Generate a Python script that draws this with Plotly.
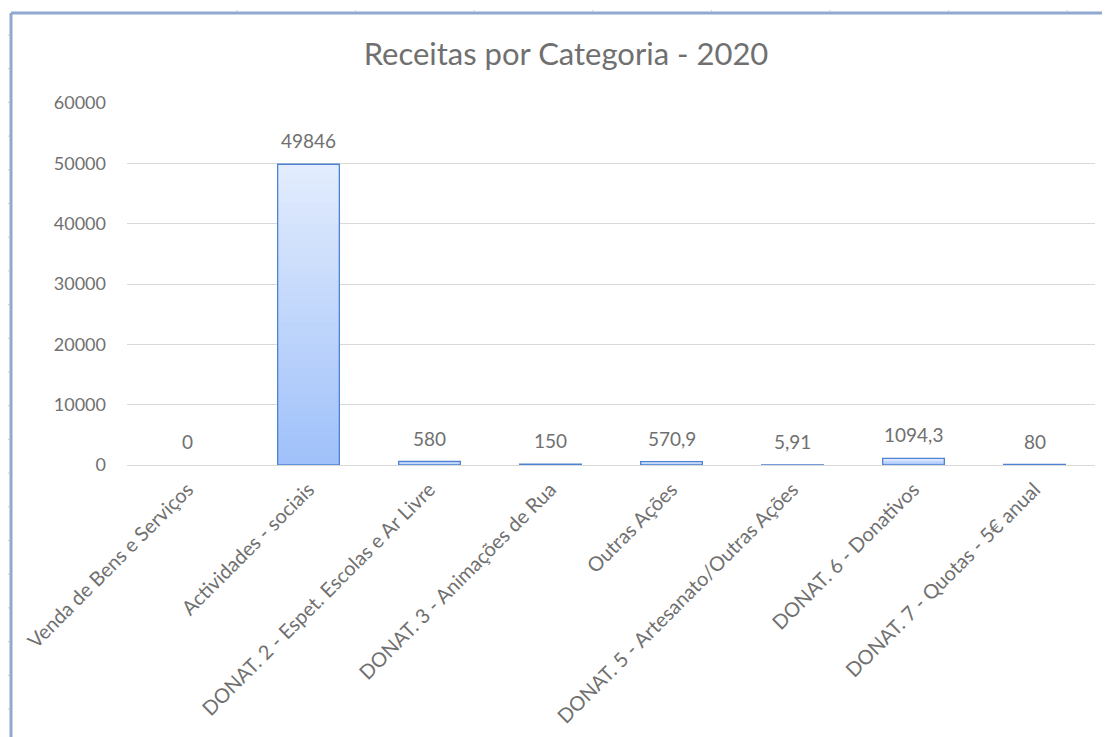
import plotly.graph_objects as go

categories = [
    "Venda de Bens e Serviços",
    "Actividades - sociais",
    "DONAT. 2 - Espet. Escolas e Ar Livre",
    "DONAT. 3 - Animações de Rua",
    "Outras Ações",
    "DONAT. 5 - Artesanato/Outras Ações",
    "DONAT. 6 - Donativos",
    "DONAT. 7 - Quotas - 5€ anual",
]
values = [0, 49846, 580, 150, 570.9, 5.91, 1094.3, 80]
y_ticks = [0, 10000, 20000, 30000, 40000, 50000, 60000]
title_text = "Receitas por Categoria - 2020"

OFF = 8  # page body margin
W, H = 1110 - OFF, 737 - OFF
ML, MR, MT, MB = 127 - OFF, 15, 103 - OFF, 737 - 465
PW, PH = W - ML - MR, H - MT - MB
FONT = "Lato"
TXT = "#707070"


def px_x(x):
    # screen pixel -> paper
    return (x - OFF - ML) / PW


def px_y(y):
    return 1 - (y - OFF - MT) / PH


def lerp(c1, c2, t):
    return "rgb({},{},{})".format(*[round(a + (b - a) * t) for a, b in zip(c1, c2)])


top_col = (226, 236, 253)
bot_col = (160, 193, 250)
N = 40

fig = go.Figure()
for k in range(N):
    t = k / (N - 1)
    fig.add_trace(go.Bar(
        x=categories,
        y=[v * (N - k) / N for v in values],
        base=[v * k / N for v in values],
        marker=dict(color=lerp(bot_col, top_col, t), line=dict(width=0)),
        showlegend=False,
        hoverinfo="skip",
    ))
# outline
fig.add_trace(go.Bar(
    x=categories,
    y=[v if v else None for v in values],
    marker=dict(color="rgba(0,0,0,0)", line=dict(color="#4F82D2", width=1.3)),
    showlegend=False,
))


def fmt(v):
    return f"{v:g}".replace(".", ",")


annotations = []
for c, v in zip(categories, values):
    annotations.append(dict(
        x=c, y=v, xref="x", yref="y", text=fmt(v), showarrow=False,
        yanchor="bottom", yshift=10,
        font=dict(family=FONT, size=19, color=TXT),
    ))

shapes = []
frame_col = "#8FA9CF"
shapes.append(dict(type="line", xref="paper", yref="paper",
                   x0=px_x(11), x1=px_x(11), y0=px_y(13), y1=px_y(760),
                   line=dict(color=frame_col, width=3)))
shapes.append(dict(type="line", xref="paper", yref="paper",
                   x0=px_x(11), x1=px_x(1130), y0=px_y(13), y1=px_y(13),
                   line=dict(color=frame_col, width=3)))
yy = 35.0
while yy < 737:
    shapes.append(dict(type="line", xref="paper", yref="paper",
                       x0=px_x(6), x1=px_x(10), y0=px_y(yy), y1=px_y(yy),
                       line=dict(color="#C8C8C8", width=1)))
    yy += 33.7
xx = 237.0
while xx < 1110:
    shapes.append(dict(type="line", xref="paper", yref="paper",
                       x0=px_x(xx), x1=px_x(xx), y0=px_y(10), y1=px_y(12),
                       line=dict(color="#C8C8C8", width=1)))
    xx += 118.6

fig.update_layout(
    width=W, height=H,
    margin=dict(l=ML, r=MR, t=MT, b=MB),
    barmode="overlay",
    bargap=0.49,
    paper_bgcolor="white",
    plot_bgcolor="white",
    title=dict(text=title_text, x=(566 - OFF) / W, xanchor="center", xref="container",
               y=1 - (54 - OFF) / H, yanchor="middle", yref="container",
               font=dict(family=FONT, size=31, color=TXT)),
    xaxis=dict(tickangle=-45, tickfont=dict(family=FONT, size=20, color=TXT),
               showgrid=False, showline=False, ticks="", automargin=False,
               ticklabelstandoff=8),
    yaxis=dict(range=[0, 60000], tickvals=y_ticks, ticktext=[str(t) for t in y_ticks],
               tickfont=dict(family=FONT, size=18, color=TXT),
               gridcolor="#D9D9D9", gridwidth=1, zeroline=True, zerolinecolor="#D9D9D9",
               zerolinewidth=1, showline=False, ticks="", ticklabelstandoff=20,
               automargin=False),
    annotations=annotations,
    shapes=shapes,
)

fig.write_html("out.html")
